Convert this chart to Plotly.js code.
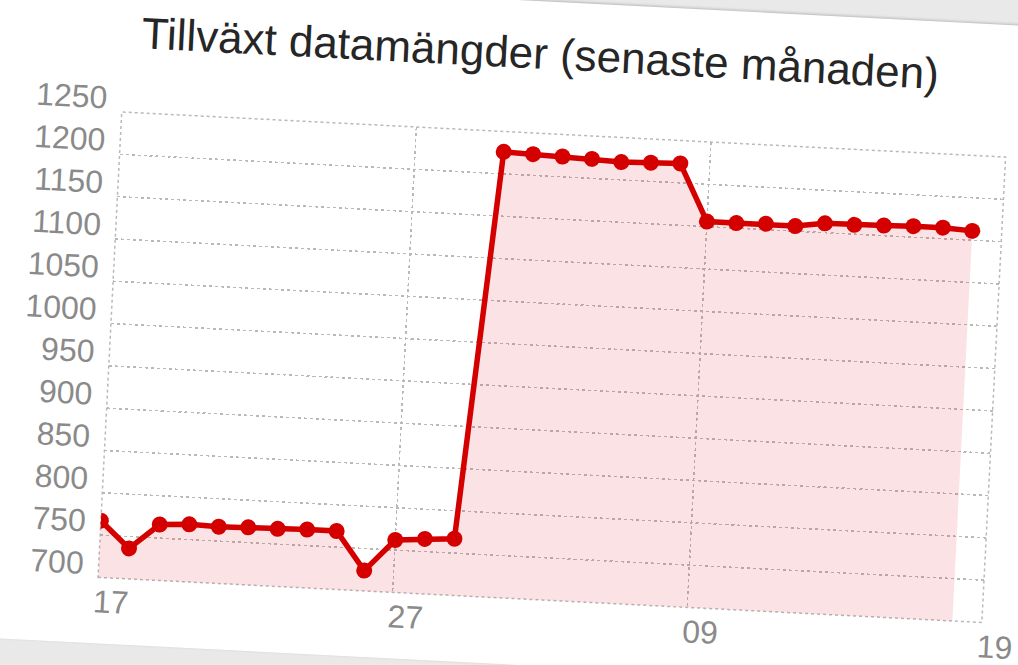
<!DOCTYPE html>
<html>
<head>
<meta charset="utf-8">
<script src="https://cdn.plot.ly/plotly-3.0.1.min.js"></script>
<style>
html,body{margin:0;padding:0;width:1018px;height:665px;overflow:hidden;background:#e9e9e9;}
#wrap{position:absolute;left:0;top:0;width:1018px;height:665px;transform-origin:509px 332.5px;transform:rotate(2.92deg);}
#card{position:absolute;left:-90px;top:0;width:1200px;height:664px;background:#fff;box-shadow:0 -1px 3px rgba(0,0,0,0.22);}
#chart{position:absolute;left:0;top:0;width:1060px;height:665px;}
</style>
</head>
<body>
<div id="wrap"><div id="card"></div><div id="chart"></div></div>
<script>
// Chart data
const chartTitle = 'Tillväxt datamängder (senaste månaden)';
const values = [767, 736, 766, 768, 767, 768, 768, 769, 769, 724, 762, 765, 767,
                1226, 1225, 1224, 1223, 1221, 1222, 1223,
                1156, 1156, 1157, 1156, 1161, 1161, 1162, 1163, 1163, 1161];
const tickPositions = [0, 10, 20, 30];
const tickLabels = ['17', '27', '09', '19'];
const yRange = [700, 1250];

const xIndex = values.map((v, i) => i);
const FONT = 'Liberation Sans, Arial, Helvetica, sans-serif';
const GRID = '#b9b9b9';

const trace = {
  x: xIndex,
  y: values,
  type: 'scatter',
  mode: 'lines+markers',
  line: {color: 'rgb(212,0,0)', width: 5.5},
  marker: {color: 'rgb(212,0,0)', size: 16},
  fill: 'tozeroy',
  fillcolor: 'rgba(220,20,40,0.12)',
  hoverinfo: 'x+y'
};

const axisCommon = {
  showgrid: true,
  gridcolor: GRID,
  griddash: '3px,3px',
  gridwidth: 1.5,
  zeroline: false,
  showline: false,
  ticks: '',
  tickfont: {family: FONT, size: 32, color: '#8a8a8a'},
  fixedrange: true,
  automargin: false
};

const layout = {
  width: 1060,
  height: 665,
  margin: {l: 111, r: 64, t: 132, b: 67, pad: 0},
  paper_bgcolor: 'rgba(0,0,0,0)',
  plot_bgcolor: 'rgba(0,0,0,0)',
  showlegend: false,
  title: {
    text: chartTitle,
    font: {family: FONT, size: 44, color: '#262626'},
    x: 526 / 1060, xanchor: 'center',
    y: 1 - 52 / 665, yanchor: 'middle'
  },
  xaxis: Object.assign({}, axisCommon, {
    range: [tickPositions[0], tickPositions[3]],
    tickmode: 'array',
    tickvals: tickPositions,
    ticktext: tickLabels,
    ticklabelshift: 14,
    ticklabelstandoff: 2
  }),
  yaxis: Object.assign({}, axisCommon, {
    range: yRange,
    tick0: 700,
    dtick: 50,
    ticklabelshift: -14,
    ticklabelstandoff: 14
  }),
  shapes: [{
    type: 'rect', xref: 'paper', yref: 'paper', x0: 0, x1: 1, y0: 0, y1: 1,
    layer: 'below',
    line: {color: GRID, width: 1.5, dash: '3px,3px'}
  }]
};

Plotly.newPlot('chart', [trace], layout, {displayModeBar: false, staticPlot: true});
</script>
</body>
</html>
